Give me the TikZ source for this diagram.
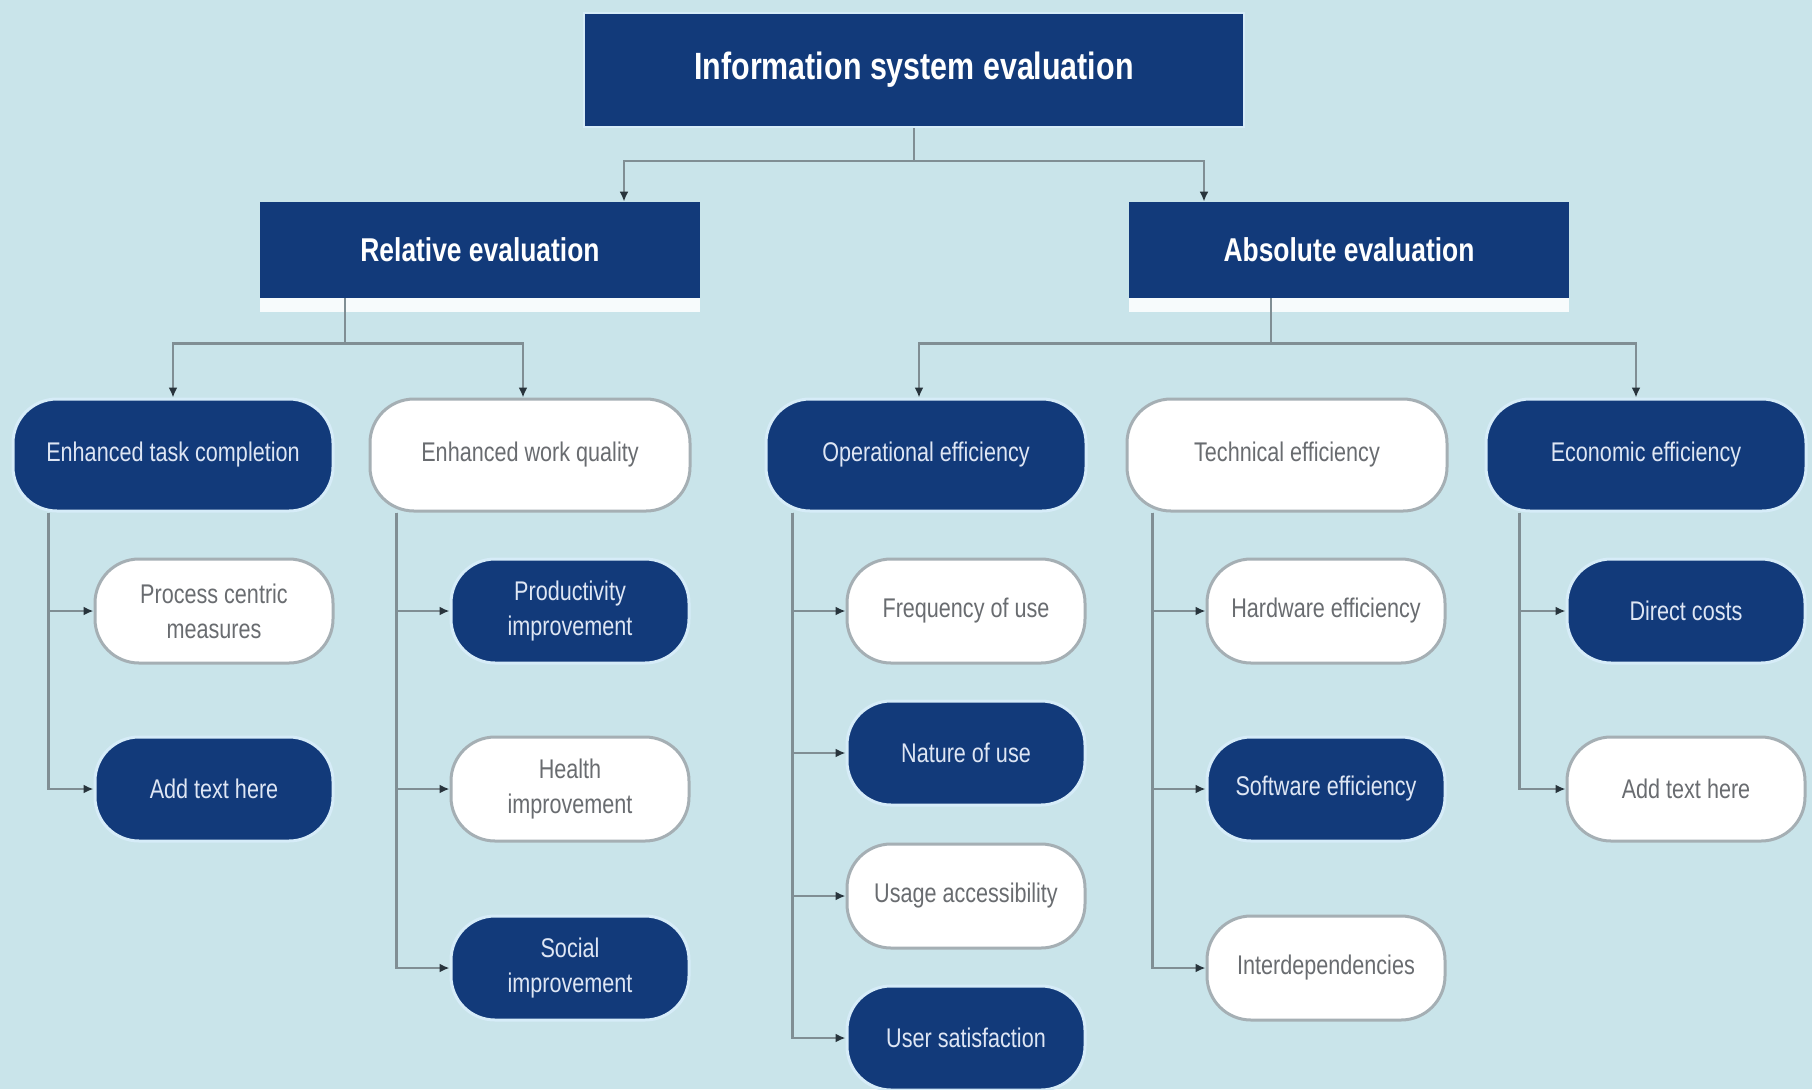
\documentclass[tikz,border=0pt]{standalone}
\usepackage{fontspec}
\setmainfont{Liberation Sans}[FakeStretch=0.8]
\usetikzlibrary{arrows.meta}

\definecolor{bgblue}{RGB}{201,228,234}
\definecolor{navy}{RGB}{18,58,122}
\definecolor{glow}{RGB}{214,236,248}
\definecolor{pillgray}{RGB}{165,175,180}
\definecolor{greytext}{RGB}{105,108,112}
\definecolor{paletext}{RGB}{222,230,244}
\definecolor{linkgray}{RGB}{128,142,148}
\definecolor{tipgray}{RGB}{40,52,60}

\tikzset{
  headbox/.style={fill=navy, draw=glow, line width=1pt, text=white, inner sep=0pt,
    font=\fontsize{19}{22}\selectfont\bfseries, minimum width=330pt, minimum height=57pt},
  groupbox/.style={fill=navy, text=white, inner sep=0pt,
    font=\fontsize{16.5}{20}\selectfont\bfseries, minimum width=220pt, minimum height=48pt},
  pill/.style={rounded corners=22pt, line width=1.5pt, align=center, inner sep=0pt,
    font=\fontsize{13.5}{17.5}\selectfont},
  darkpill/.style={pill, fill=navy, draw=glow, text=paletext},
  lightpill/.style={pill, fill=white, draw=pillgray, text=greytext},
  catsize/.style={minimum width=160pt, minimum height=56pt},
  itemsize/.style={minimum width=119pt, minimum height=52pt},
  link/.style={draw=linkgray, line width=1.2pt, -{Latex[length=5pt,width=4.5pt,color=tipgray]}}
}

\begin{document}
\begin{tikzpicture}[x=0.5pt,y=-0.5pt]
  \fill[bgblue] (0,0) rectangle (1812,1089);
  \useasboundingbox (0,0) rectangle (1812,1089);

  % top levels
  \node[headbox] (ise) at (914,70) {Information system evaluation};
  \node[groupbox] (rel) at (480,250) {Relative evaluation};
  \node[groupbox] (abs) at (1349,250) {Absolute evaluation};
  \foreach \g in {rel,abs}
    \fill[white!85!bgblue] (\g.south west) rectangle ([yshift=-7pt]\g.south east);

  % categories
  \node[darkpill,catsize]  (etc) at (173,455)  {Enhanced task completion};
  \node[lightpill,catsize] (ewq) at (530,455)  {Enhanced work quality};
  \node[darkpill,catsize]  (ope) at (926,455)  {Operational efficiency};
  \node[lightpill,catsize] (tec) at (1287,455) {Technical efficiency};
  \node[darkpill,catsize]  (eco) at (1646,455) {Economic efficiency};

  % items
  \node[lightpill,itemsize] (pcm) at (214,611) {Process centric\\measures};
  \node[darkpill,itemsize]  (at1) at (214,789) {Add text here};

  \node[darkpill,itemsize]  (pro) at (570,611) {Productivity\\improvement};
  \node[lightpill,itemsize] (hea) at (570,789) {Health\\improvement};
  \node[darkpill,itemsize]  (soc) at (570,968) {Social\\improvement};

  \node[lightpill,itemsize] (fre) at (966,611)  {Frequency of use};
  \node[darkpill,itemsize]  (nat) at (966,753)  {Nature of use};
  \node[lightpill,itemsize] (usa) at (966,896)  {Usage accessibility};
  \node[darkpill,itemsize]  (uss) at (966,1038) {User satisfaction};

  \node[lightpill,itemsize] (hwe) at (1326,611) {Hardware efficiency};
  \node[darkpill,itemsize]  (swe) at (1326,789) {Software efficiency};
  \node[lightpill,itemsize] (int) at (1326,968) {Interdependencies};

  \node[darkpill,itemsize]  (dic) at (1686,611) {Direct costs};
  \node[lightpill,itemsize] (at2) at (1686,789) {Add text here};

  % connectors
  \draw[link] (ise.south) -- ++(0,33) -| ([xshift=72pt]rel.north);
  \draw[link] (ise.south) -- ++(0,33) -| ([xshift=-72.5pt]abs.north);
  \draw[link] ([xshift=-67.5pt]rel.south) -- ++(0,45) -| (etc.north);
  \draw[link] ([xshift=-67.5pt]rel.south) -- ++(0,45) -| ([xshift=-3.5pt]ewq.north);
  \draw[link] ([xshift=-39pt]abs.south) -- ++(0,45) -| ([xshift=-3.5pt]ope.north);
  \draw[link] ([xshift=-39pt]abs.south) -- ++(0,45) -| ([xshift=-5pt]eco.north);

  \foreach \c in {pcm,at1}
    \draw[link] ([xshift=18.5pt]etc.south west) |- (\c.west);
  \foreach \c in {pro,hea,soc}
    \draw[link] ([xshift=14pt]ewq.south west) |- (\c.west);
  \foreach \c in {fre,nat,usa,uss}
    \draw[link] ([xshift=14pt]ope.south west) |- (\c.west);
  \foreach \c in {hwe,swe,int}
    \draw[link] ([xshift=13.5pt]tec.south west) |- (\c.west);
  \foreach \c in {dic,at2}
    \draw[link] ([xshift=17.5pt]eco.south west) |- (\c.west);
\end{tikzpicture}
\end{document}
